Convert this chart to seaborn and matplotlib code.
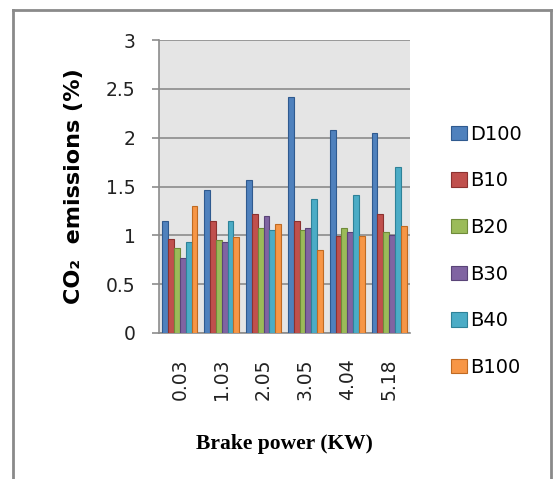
import numpy as np
import pandas as pd
import matplotlib
matplotlib.use("Agg")
import matplotlib.pyplot as plt
from matplotlib.lines import Line2D
import seaborn as sns

categories = ["0.03", "1.03", "2.05", "3.05", "4.04", "5.18"]
series = ["D100", "B10", "B20", "B30", "B40", "B100"]
D100 = [1.15, 1.46, 1.57, 2.42, 2.08, 2.05]
B10 = [0.96, 1.15, 1.22, 1.15, 0.99, 1.22]
B20 = [0.87, 0.95, 1.08, 1.05, 1.07, 1.03]
B30 = [0.77, 0.93, 1.20, 1.08, 1.03, 1.00]
B40 = [0.93, 1.15, 1.05, 1.37, 1.41, 1.70]
B100 = [1.30, 0.98, 1.12, 0.85, 0.99, 1.10]
values = [D100, B10, B20, B30, B40, B100]
ytick_vals = [0, 0.5, 1, 1.5, 2, 2.5, 3]
ytick_labels = ["0", "0.5", "1", "1.5", "2", "2.5", "3"]

colors = ["#4F81BD", "#C0504D", "#9BBB59", "#8064A2", "#4BACC6", "#F79646"]
edges = ["#2F5A8F", "#8C3230", "#6F8B3A", "#5A4478", "#2E8298", "#C06A22"]

rows = []
for s, vals in zip(series, values):
    for c, v in zip(categories, vals):
        rows.append({"Brake power": c, "series": s, "value": v})
df = pd.DataFrame(rows)

W, H = 553, 479
fig = plt.figure(figsize=(W / 100, H / 100), dpi=100)
fig.patch.set_facecolor("white")
ax = fig.add_axes([159 / W, 1 - 333 / H, (410 - 159) / W, (333 - 40) / H])
ax.set_facecolor("#E5E5E5")

sns.barplot(data=df, x="Brake power", y="value", hue="series",
            order=categories, hue_order=series, palette=colors,
            width=0.84, ax=ax, legend=False, errorbar=None, saturation=1)

for i, cont in enumerate(ax.containers):
    for bar in cont:
        bar.set_edgecolor(edges[i])
        bar.set_linewidth(0.8)
        bar.set_zorder(3)

ax.set_ylim(0, 3)
ax.set_xlim(-0.5, len(categories) - 0.5)
ax.set_yticks(ytick_vals)
ax.set_yticklabels(ytick_labels)
ax.yaxis.grid(True, color="#8C8C8C", linewidth=1.2, zorder=0)
ax.set_axisbelow(True)
for sp in ["top", "right"]:
    ax.spines[sp].set_visible(False)
ax.spines["left"].set_color("#8C8C8C")
ax.spines["bottom"].set_color("#8C8C8C")
ax.spines["left"].set_linewidth(1.2)
ax.spines["bottom"].set_linewidth(1.2)

ax.tick_params(axis="y", length=5, width=1.2, color="#8C8C8C", pad=12,
               labelsize=13.5, labelcolor="#222222")
ax.tick_params(axis="x", length=0, pad=18, labelsize=13.5, labelcolor="#222222",
               rotation=90)

ax.set_xlabel("Brake power (KW)", fontsize=15.5, fontweight="bold",
              family="Liberation Serif", labelpad=25)
ax.set_ylabel("CO\u2082  emissions (%)", fontsize=16, fontweight="bold",
              labelpad=16)

handles = [plt.Rectangle((0, 0), 1, 1, facecolor=c, edgecolor=e, linewidth=0.8)
           for c, e in zip(colors, edges)]
fig.legend(handles, series, loc="upper left",
           bbox_to_anchor=(443 / W, 1 - 117 / H), frameon=False,
           fontsize=14, handlelength=0.82, handleheight=0.75,
           handletextpad=0.15, labelspacing=1.42, borderaxespad=0)

fc = "#8A8A8A"
fig.add_artist(Line2D([13 / W, 13 / W], [0, 1 - 10 / H], transform=fig.transFigure,
                      color=fc, linewidth=2))
fig.add_artist(Line2D([13 / W, 551 / W], [1 - 10 / H, 1 - 10 / H],
                      transform=fig.transFigure, color=fc, linewidth=2))
fig.add_artist(Line2D([551 / W, 551 / W], [0, 1 - 10 / H], transform=fig.transFigure,
                      color=fc, linewidth=2))

fig.savefig("out.png", dpi=100)
